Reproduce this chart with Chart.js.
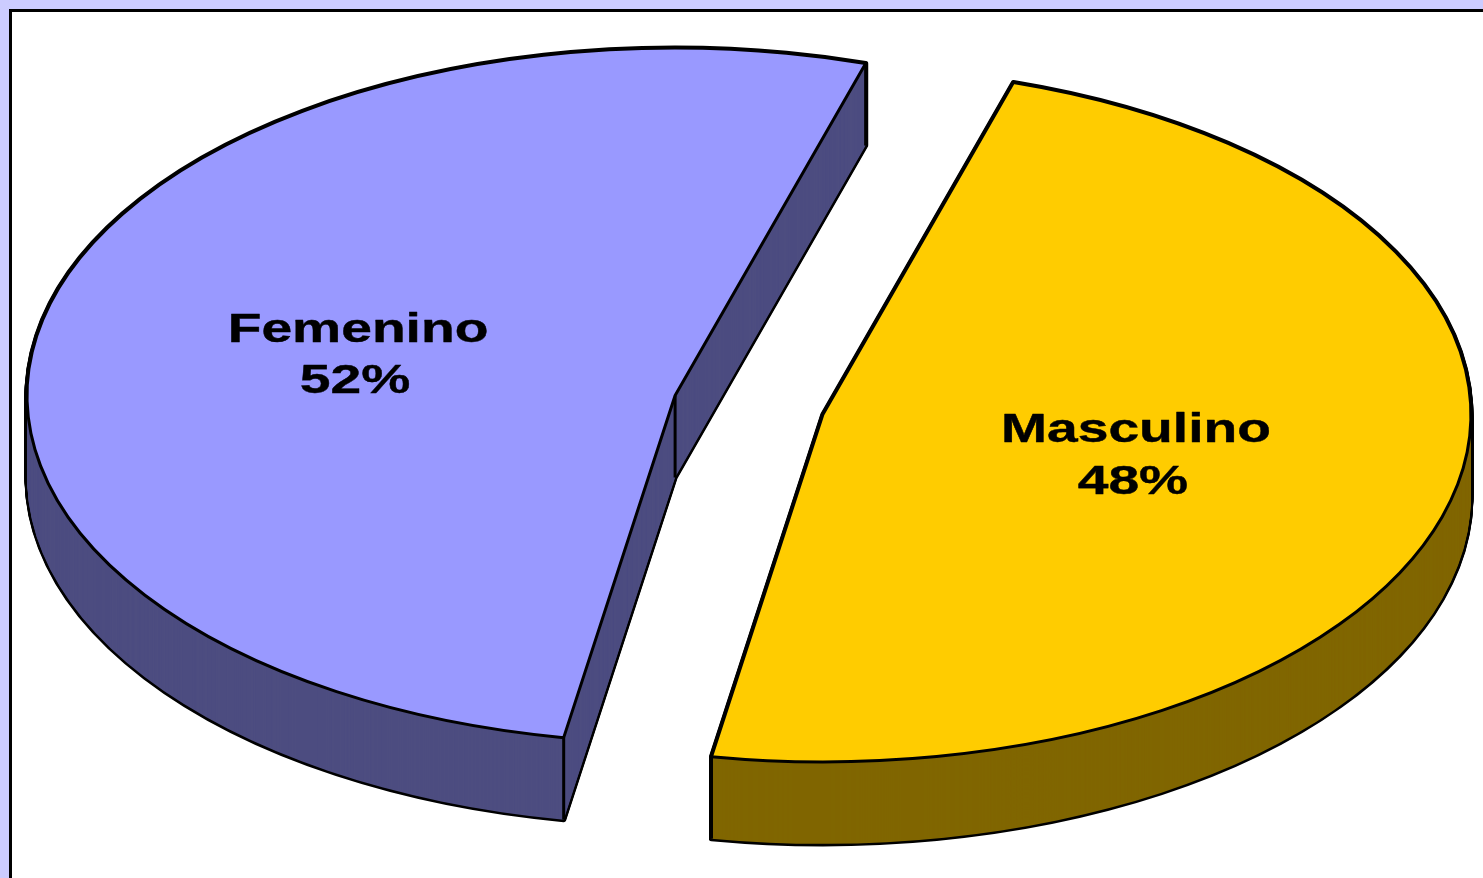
<!DOCTYPE html>
<html lang="es">
<head>
<meta charset="utf-8">
<title>Femenino / Masculino</title>
<style>
html,body{margin:0;padding:0;width:1483px;height:878px;overflow:hidden;background:#CCCCFF}
#frame{position:absolute;left:9px;top:9px;right:0;bottom:0;background:#fff;border-left:3px solid #000;border-top:3px solid #000}
#c{position:absolute;left:0;top:0}
</style>
<script src="https://cdn.jsdelivr.net/npm/chart.js@4/dist/chart.umd.min.js"></script>
</head>
<body>
<div id="frame"></div>
<canvas id="c" width="1483" height="878"></canvas>
<script>
const categories = ['Masculino', 'Femenino'];
const percentages = [48, 52];
const faceColors = ['#FFCC00', '#9999FF'];
const wallColors = ['#806600', '#4D4D80'];

const TILT = 0.536, DEPTH = 82, EXPLODE = 76, RADIUS = 648, LINE = 3;

function withTilt(ctx, cy, fn) {
  ctx.save();
  ctx.translate(0, cy);
  ctx.scale(1, TILT);
  ctx.translate(0, -cy);
  fn();
  ctx.restore();
}
function sectorPath(ctx, arc, cy, depth) {
  ctx.beginPath();
  withTilt(ctx, cy, () => {
    const y = arc.y + depth / TILT;
    ctx.moveTo(arc.x, y);
    ctx.arc(arc.x, y, arc.outerRadius, arc.startAngle, arc.endAngle);
    ctx.closePath();
  });
}
function screenY(y, cy) { return cy + (y - cy) * TILT; }

const pie3d = {
  id: 'pie3d',
  afterDatasetsUpdate(chart) {
    const area = chart.chartArea;
    const cx = (area.left + area.right) / 2, cy = (area.top + area.bottom) / 2;
    chart._pieCy = cy;
    chart.getDatasetMeta(0).data.forEach(arc => {
      const mid = (arc.startAngle + arc.endAngle) / 2;
      arc.x = cx + Math.cos(mid) * EXPLODE;
      arc.y = cy + Math.sin(mid) * EXPLODE;
    });
  },
  beforeDatasetDraw(chart) {
    const ctx = chart.ctx, cy = chart._pieCy;
    const arcs = chart.getDatasetMeta(0).data;
    ctx.save();
    ctx.lineJoin = 'round';
    arcs.forEach((arc, i) => {
      ctx.strokeStyle = '#000';
      ctx.lineWidth = LINE * 1.7;
      for (let d = DEPTH; d >= 0; d--) { sectorPath(ctx, arc, cy, d); ctx.stroke(); }
      ctx.fillStyle = wallColors[i];
      for (let d = DEPTH; d >= 0; d--) { sectorPath(ctx, arc, cy, d); ctx.fill(); }
      // vertical edges of the wall
      ctx.lineWidth = LINE;
      const tops = [
        [arc.x, arc.y],
        [arc.x + Math.cos(arc.startAngle) * arc.outerRadius, arc.y + Math.sin(arc.startAngle) * arc.outerRadius],
        [arc.x + Math.cos(arc.endAngle) * arc.outerRadius, arc.y + Math.sin(arc.endAngle) * arc.outerRadius]
      ];
      tops.forEach(([x, y]) => {
        const sy = screenY(y, cy);
        ctx.beginPath(); ctx.moveTo(x, sy); ctx.lineTo(x, sy + DEPTH); ctx.stroke();
      });
    });
    ctx.restore();
    // the top faces are drawn by the library, flattened into an ellipse
    ctx.save();
    ctx.translate(0, cy);
    ctx.scale(1, TILT);
    ctx.translate(0, -cy);
  },
  afterDatasetDraw(chart) {
    const ctx = chart.ctx, cy = chart._pieCy;
    ctx.restore();
    const arcs = chart.getDatasetMeta(0).data;
    ctx.save();
    ctx.strokeStyle = '#000';
    ctx.lineWidth = LINE;
    ctx.lineJoin = 'round';
    arcs.forEach(arc => { sectorPath(ctx, arc, cy, 0); ctx.stroke(); });
    // data labels
    ctx.fillStyle = '#000';
    ctx.textAlign = 'center';
    ctx.textBaseline = 'alphabetic';
    ctx.font = 'bold 40px "Liberation Sans", Arial, sans-serif';
    ctx.lineWidth = 0.4;
    const total = percentages.reduce((a, b) => a + b, 0);
    arcs.forEach((arc, i) => {
      const p = arc.getCenterPoint();
      const x = p.x, y = screenY(p.y, cy);
      const pct = Math.round(percentages[i] / total * 100) + '%';
      [[categories[i], -13, 0], [pct, 38.5, -3]].forEach(([txt, dy, dx]) => {
        ctx.save();
        ctx.translate(x - 2 + dx, y + dy);
        ctx.scale(1.38, 1);
        ctx.fillText(txt, 0, 0);
        ctx.strokeText(txt, 0, 0);
        ctx.restore();
      });
    });
    ctx.restore();
  }
};

new Chart(document.getElementById('c'), {
  type: 'pie',
  data: {
    labels: categories,
    datasets: [{
      data: percentages,
      backgroundColor: faceColors,
      borderWidth: 0,
      clip: false
    }]
  },
  options: {
    responsive: false,
    animation: false,
    events: [],
    rotation: 17.1,
    radius: RADIUS,
    layout: { padding: { left: 15, bottom: 68 } },
    plugins: { legend: { display: false }, tooltip: { enabled: false } }
  },
  plugins: [pie3d]
});
</script>
</body>
</html>
